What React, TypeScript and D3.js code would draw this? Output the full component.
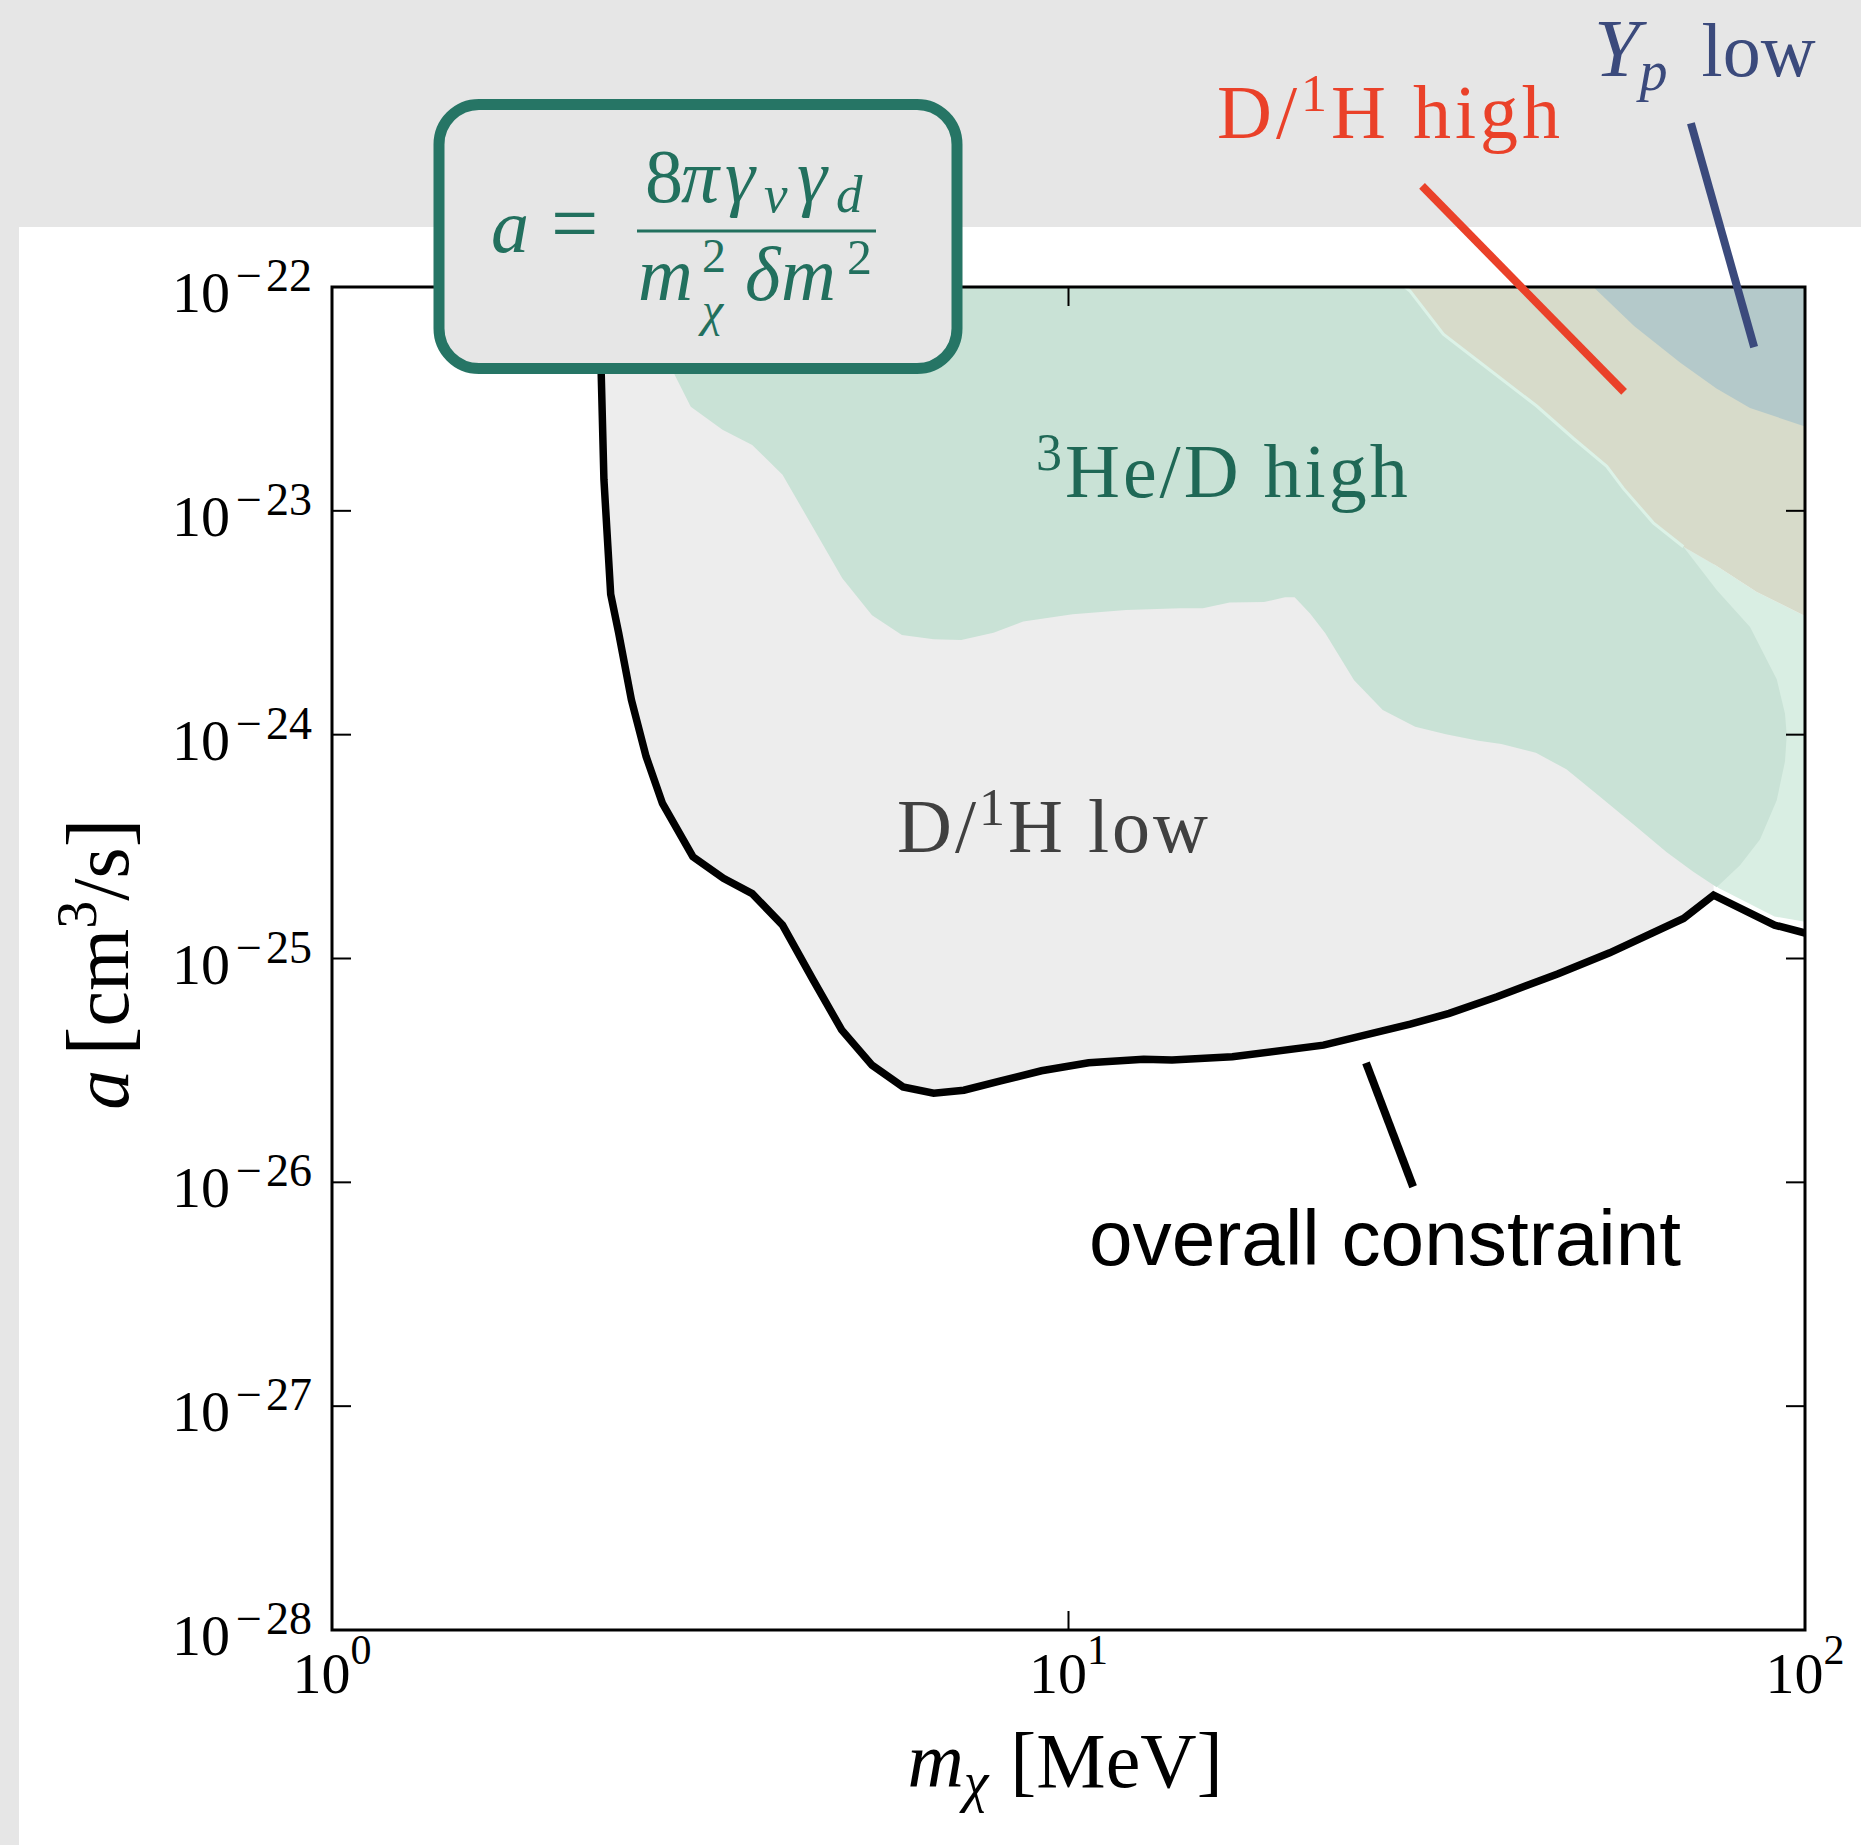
import React from 'react';
import * as d3 from 'd3';

const W = 1861, H = 1845;
const left = 332, right = 1805, top = 287, bottom = 1630;

const serif = "'Liberation Serif', 'Times New Roman', serif";
const sans = "'Liberation Sans', Arial, sans-serif";

// axis ticks (decades)
const xExps = [0, 1, 2];
const yExps = [-28, -27, -26, -25, -24, -23, -22];

// overall constraint curve [m_chi (MeV), a (cm^3/s)]
const overallConstraint: [number, number][] = [
  [2.30, 1.0e-22], [2.32, 4.15e-23], [2.34, 1.38e-23], [2.39, 4.24e-24], [2.45, 2.85e-24],
  [2.55, 1.43e-24], [2.67, 7.98e-25], [2.81, 4.93e-25], [3.09, 2.85e-25], [3.40, 2.28e-25],
  [3.72, 1.95e-25], [4.09, 1.41e-25], [4.50, 8.02e-26], [4.92, 4.80e-26], [5.41, 3.34e-26],
  [5.96, 2.67e-26], [6.56, 2.50e-26], [7.21, 2.58e-26], [8.09, 2.84e-26], [9.19, 3.15e-26],
  [10.65, 3.42e-26], [12.65, 3.55e-26], [13.82, 3.52e-26], [16.69, 3.64e-26], [22.19, 4.10e-26],
  [29.11, 5.09e-26], [32.88, 5.69e-26], [38.18, 6.75e-26], [46.14, 8.53e-26], [54.30, 1.06e-25],
  [68.40, 1.51e-25], [75.15, 1.92e-25], [90.93, 1.41e-25], [100, 1.30e-25],
];

// D/1H high lower edge (shared with 3He/D high)
const dhHighEdge: [number, number][] = [
  [28.64, 1.0e-22], [29.09, 9.6e-23], [32.28, 6.15e-23], [36.21, 4.60e-23], [43.22, 2.94e-23],
  [48.45, 2.11e-23], [53.80, 1.58e-23], [56.66, 1.26e-23], [62.23, 8.84e-24], [68.37, 6.91e-24],
];
const dhHighTail: [number, number][] = [
  [75.87, 5.67e-24], [86.0, 4.34e-24], [100, 3.39e-24], [100, 1.0e-22],
];

// 3He/D high: outer-right edge and lower edge (going west)
const heDRight: [number, number][] = [
  [75.87, 4.43e-24], [84.21, 3.03e-24], [91.54, 1.77e-24], [93.94, 1.24e-24], [94.45, 9.93e-25],
  [93.94, 7.60e-25], [91.54, 5.09e-25], [86.87, 3.40e-25], [81.62, 2.61e-25], [75.87, 2.08e-25],
];
const heDLower: [number, number][] = [
  [70.52, 2.44e-25], [64.90, 2.98e-25], [58.47, 3.98e-25], [52.69, 5.28e-25], [47.43, 7.00e-25],
  [43.11, 8.31e-25], [38.70, 9.08e-25], [36.03, 9.40e-25], [32.54, 1.004e-24], [29.56, 1.085e-24],
  [26.71, 1.29e-24], [24.42, 1.75e-24], [22.32, 2.84e-24], [21.28, 3.48e-24], [20.28, 4.11e-24],
  [19.68, 4.11e-24], [18.43, 3.91e-24], [16.55, 3.89e-24], [15.22, 3.67e-24], [14.17, 3.67e-24],
  [11.98, 3.61e-24], [10.13, 3.45e-24], [8.68, 3.20e-24], [7.91, 2.85e-24], [7.15, 2.65e-24],
  [6.56, 2.67e-24], [5.94, 2.79e-24], [5.41, 3.42e-24], [4.93, 5.00e-24], [4.09, 1.45e-23],
  [3.72, 1.97e-23], [3.39, 2.30e-23], [3.07, 2.92e-23], [2.92, 4.04e-23], [2.70, 1.0e-22],
];

// lighter 3He/D band reaching the right edge
const heDOuterTail: [number, number][] = [
  [100, 1.46e-25], [90.9, 1.54e-25], [76.2, 2.07e-25], [52.7, 1.35e-24],
];

// Yp low region
const ypLow: [number, number][] = [
  [51.6, 1.0e-22], [58.6, 6.69e-23], [67.66, 4.60e-23], [75.82, 3.52e-23], [84.21, 2.88e-23],
  [100, 2.38e-23], [100, 1.0e-22],
];

// pointer lines [start, end] in data coords
const pointerDH: [number, number][] = [[30.2, 2.83e-22], [56.8, 3.40e-23]];
const pointerYp: [number, number][] = [[70.0, 5.39e-22], [85.3, 5.39e-23]];
const pointerOverall: [number, number][] = [[25.35, 3.42e-26], [29.37, 9.56e-27]];

export default function App() {
  const x = d3.scaleLog().domain([1, 100]).range([left, right]);
  const y = d3.scaleLog().domain([1e-28, 1e-22]).range([bottom, top]);
  const line = d3.line<[number, number]>().x(d => x(d[0])).y(d => y(d[1]));
  const poly = (pts: [number, number][]) => line(pts) + 'Z';

  const peakIdx = d3.maxIndex(overallConstraint, d => (d[0] > 10 ? d[1] : 0));
  const peak = overallConstraint[peakIdx];
  const grayRegion: [number, number][] = [
    ...overallConstraint.slice(0, peakIdx + 1),
    [peak[0], 1e-22],
  ];
  const heDHigh: [number, number][] = [[2.70, 1e-22], ...dhHighEdge, ...heDRight, ...heDLower];
  const heDOuter: [number, number][] = [...dhHighEdge, ...dhHighTail.slice(0, 3), ...heDOuterTail];
  const dhHigh: [number, number][] = [...dhHighEdge, ...dhHighTail];

  const tickLen = 19;
  const pl = (p: [number, number][]) => ({ x1: x(p[0][0]), y1: y(p[0][1]), x2: x(p[1][0]), y2: y(p[1][1]) });

  return (
    <svg width={W} height={H} style={{ position: 'absolute', left: 0, top: 0, display: 'block' }}>
      <rect width={W} height={H} fill="#e6e6e6" />
      <rect x={19} y={227} width={W - 19} height={H - 227} fill="#ffffff" />
      <defs>
        <clipPath id="plotclip">
          <rect x={left} y={top} width={right - left} height={bottom - top} />
        </clipPath>
      </defs>

      <g clipPath="url(#plotclip)">
        <path d={poly(grayRegion)} fill="#ededed" />
        <path d={poly(heDOuter)} fill="#d9eee3" />
        <path d={poly(heDHigh)} fill="#c9e2d6" />
        <path d={poly(dhHigh)} fill="#d7dbca" />
        <path d={line(dhHighEdge) || ''} fill="none" stroke="#dcf2e7" strokeWidth={3} />
        <path d={poly(ypLow)} fill="#b4c9ca" />
        <path d={line(overallConstraint) || ''} fill="none" stroke="#000" strokeWidth={7.5} strokeLinejoin="miter" />
      </g>

      {/* frame and ticks */}
      <rect x={left} y={top} width={right - left} height={bottom - top} fill="none" stroke="#000" strokeWidth={3} />
      {yExps.map(e => (
        <g key={'yt' + e} stroke="#000" strokeWidth={2}>
          <line x1={left} x2={left + tickLen} y1={y(10 ** e)} y2={y(10 ** e)} />
          <line x1={right} x2={right - tickLen} y1={y(10 ** e)} y2={y(10 ** e)} />
        </g>
      ))}
      {xExps.map(e => (
        <g key={'xt' + e} stroke="#000" strokeWidth={2}>
          <line x1={x(10 ** e)} x2={x(10 ** e)} y1={bottom} y2={bottom - tickLen} />
          <line x1={x(10 ** e)} x2={x(10 ** e)} y1={top} y2={top + tickLen} />
        </g>
      ))}

      {/* tick labels */}
      <g fontFamily={serif} fill="#000">
        {yExps.map(e => (
          <text key={'yl' + e} x={312} y={y(10 ** e) + 25} fontSize={58} textAnchor="end">
            10
            <tspan fontSize={46} dx={6} dy={-21}>{'\u2212'}</tspan>
            <tspan fontSize={46} dx={4}>{String(Math.abs(e))}</tspan>
          </text>
        ))}
        {xExps.map(e => (
          <text key={'xl' + e} x={x(10 ** e)} y={1693} fontSize={58} textAnchor="middle">
            10<tspan fontSize={42} dy={-29}>{String(e)}</tspan>
          </text>
        ))}
      </g>

      {/* axis labels */}
      <text x={1065} y={1787} fontFamily={serif} fontSize={78} textAnchor="middle" fill="#000">
        <tspan fontStyle="italic">m</tspan>
        <tspan fontStyle="italic" fontSize={56} dy={14}>{'\u03c7'}</tspan>
        <tspan dy={-14} dx={22}>[MeV]</tspan>
      </text>
      <text transform="translate(128,964) rotate(-90)" fontFamily={serif} fontSize={80} textAnchor="middle" fill="#000">
        <tspan fontStyle="italic">a</tspan>
        <tspan dx={14} fontSize={88}>[</tspan>
        <tspan>cm</tspan>
        <tspan fontSize={56} dy={-32}>3</tspan>
        <tspan dy={32}>/s</tspan>
        <tspan fontSize={88}>]</tspan>
      </text>

      {/* region labels */}
      <text x={1036} y={497} fontFamily={serif} fontSize={76} fill="#1f6856" letterSpacing={3}>
        <tspan fontSize={52} dy={-27}>3</tspan>
        <tspan dy={27}>He/D high</tspan>
      </text>
      <text x={897} y={852} fontFamily={serif} fontSize={76} fill="#404040" letterSpacing={3}>
        D/<tspan fontSize={52} dy={-27}>1</tspan>
        <tspan dy={27}>H low</tspan>
      </text>
      <text x={1217} y={138} fontFamily={serif} fontSize={76} fill="#ea4129" letterSpacing={4}>
        D/<tspan fontSize={52} dy={-27}>1</tspan>
        <tspan dy={27}>H high</tspan>
      </text>
      <text x={1594} y={76} fontFamily={serif} fontSize={82} fill="#3b4a7c">
        <tspan fontStyle="italic">Y</tspan>
        <tspan fontStyle="italic" fontSize={56} dy={14}>p</tspan>
        <tspan dy={-14} dx={34} fontSize={76}>low</tspan>
      </text>
      <text x={1089} y={1265} fontFamily={sans} fontSize={78} fill="#000" textLength={592} lengthAdjust="spacingAndGlyphs">
        overall constraint
      </text>

      {/* pointers */}
      <line {...pl(pointerDH)} stroke="#ea4129" strokeWidth={8} />
      <line {...pl(pointerYp)} stroke="#3b4a7c" strokeWidth={8} />
      <line {...pl(pointerOverall)} stroke="#000" strokeWidth={8} />

      {/* formula box */}
      <rect x={439} y={104.5} width={518} height={264} rx={40} ry={40} fill="#e6e6e6" stroke="#267565" strokeWidth={11} />
      <g fontFamily={serif} fill="#22705e" fontSize={76}>
        <text x={491} y={252}>
          <tspan fontStyle="italic">a</tspan>
          <tspan dx={22} fontSize={84}>=</tspan>
        </text>
        <line x1={637} x2={876} y1={231} y2={231} stroke="#22705e" strokeWidth={3} />
        <text x={645} y={202}>8</text>
        <text x={681} y={202} fontStyle="italic">{'\u03c0'}</text>
        <text x={725} y={202} fontStyle="italic">{'\u03b3'}</text>
        <text x={764} y={212} fontStyle="italic" fontSize={53}>v</text>
        <text x={797} y={202} fontStyle="italic">{'\u03b3'}</text>
        <text x={836} y={212} fontStyle="italic" fontSize={53}>d</text>
        <text x={638} y={300} fontStyle="italic">m</text>
        <text x={702} y={272} fontSize={48}>2</text>
        <text x={702} y={326} fontStyle="italic" fontSize={48}>{'\u03c7'}</text>
        <text x={745} y={300} fontStyle="italic">{'\u03b4'}</text>
        <text x={781} y={300} fontStyle="italic">m</text>
        <text x={847} y={274} fontSize={50}>2</text>
      </g>
    </svg>
  );
}
